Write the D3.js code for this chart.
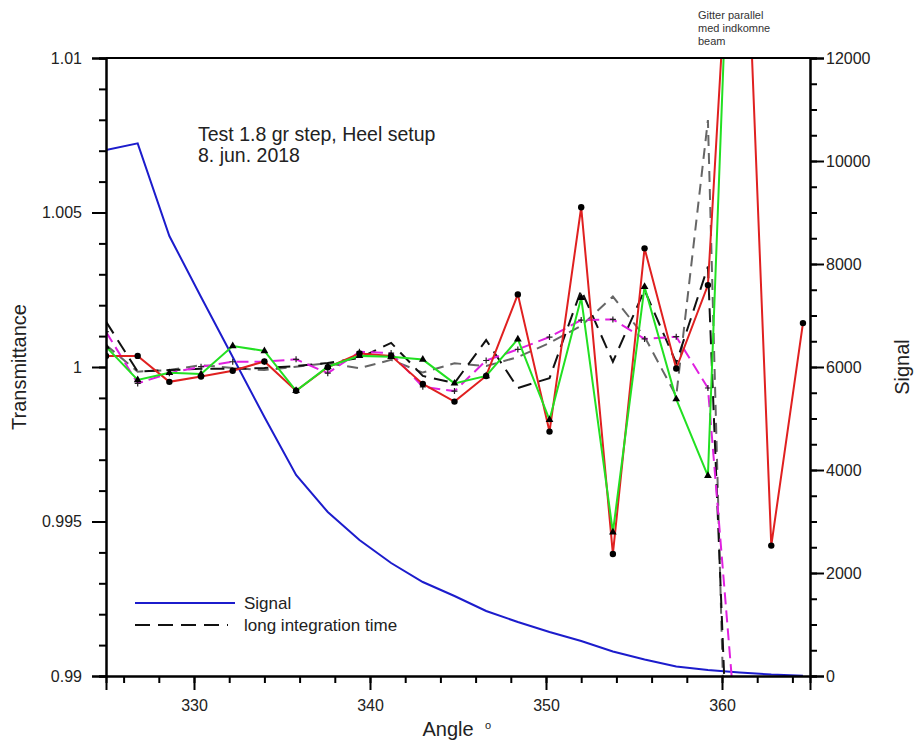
<!DOCTYPE html>
<html>
<head>
<meta charset="utf-8">
<script src="https://cdn.jsdelivr.net/npm/d3@7"></script>
<style>
  body { margin: 0; background: #fff; }
  text { font-family: "Liberation Sans", Arial, sans-serif; fill: #222; }
</style>
</head>
<body>
<div id="chart"></div>
<script>
// angle steps of 1.8 degree
const angles = [325, 326.8, 328.6, 330.4, 332.2, 334, 335.8, 337.6, 339.4, 341.2, 343, 344.8,
  346.6, 348.4, 350.2, 352, 353.8, 355.6, 357.4, 359.2, 361, 362.8, 364.6];

// transmittance series (left axis)
const redVals = [1.00036, 1.00036, 0.99952, 0.99969, 0.99988, 1.00018, 0.99923, 0.99999, 1.00044,
  1.00036, 0.99945, 0.99888, 0.99971, 1.00235, 0.99791, 1.00517, 0.99395, 1.00384, 0.99995,
  1.00265, 1.0202, 0.99422, 1.00142];
const greenVals = [1.00066, 0.99958, 0.99981, 0.99977, 1.00068, 1.00052, 0.99923, 1.00001, 1.00036,
  1.00033, 1.00024, 0.99947, 0.99971, 1.0009, 0.99829, 1.00224, 0.99465, 1.0026, 0.99896,
  0.99648, 1.0238];
const longVals = [1.00147, 0.99985, 0.9999, 0.99994, 0.99994, 0.99997, 1.00003, 1.00013, 1.00029,
  1.00078, 0.99971, 0.99948, 1.00087, 0.99932, 0.99964, 1.00249, 1.00017, 1.00249, 1.00013,
  1.00325, 0.9774];
const greyVals = [1.00071, 0.99985, 0.9999, 1.00006, 0.99997, 0.9999, 1.00001, 1.00012, 0.99996,
  1.00023, 0.99982, 1.00012, 1.00003, 1.00032, 1.00078, 1.00133, 1.00228, 1.00098, 0.99906,
  1.00799, 0.9697];
const magentaVals = [1.00114, 0.99947, 0.9998, 1.00001, 1.00017, 1.00017, 1.00025, 0.9998, 1.00049,
  1.00045, 0.99936, 0.99922, 1.00021, 1.00057, 1.00097, 1.00152, 1.00154, 1.00091, 1.00098,
  0.99932, 0.98686];

// signal (right axis)
const signalVals = [10214, 10343, 8544, 7359, 6194, 5029, 3903, 3184, 2641, 2194, 1825, 1553,
  1262, 1048, 854, 680, 476, 320, 184, 117, 68, 29, 6];

const xMajor = [330, 340, 350, 360];
const leftTicks = [0.99, 0.995, 1, 1.005, 1.01];
const rightTicks = [0, 2000, 4000, 6000, 8000, 10000, 12000];

(function () {
  const width = 916, height = 744;
  const margin = { top: 58, right: 106, bottom: 68, left: 106 };
  const x0 = margin.left, x1 = width - margin.right, y0 = margin.top, y1 = height - margin.bottom;

  const svg = d3.select("#chart").append("svg")
    .attr("width", width)
    .attr("height", height);

  const x = d3.scaleLinear().domain([325, 365]).range([x0, x1]);
  const y = d3.scaleLinear().domain([0.99, 1.01]).range([y1, y0]);
  const y2 = d3.scaleLinear().domain([0, 12000]).range([y1, y0]);

  svg.append("clipPath").attr("id", "plotclip")
    .append("rect").attr("x", x0).attr("y", y0).attr("width", x1 - x0).attr("height", y1 - y0);

  const plot = svg.append("g").attr("clip-path", "url(#plotclip)");

  const pts = vals => vals.map((v, i) => [angles[i], v]);
  const line = d3.line().x(d => x(d[0])).y(d => y(d[1]));
  const line2 = d3.line().x(d => x(d[0])).y(d => y2(d[1]));

  plot.append("path").datum(pts(signalVals))
    .attr("d", line2).attr("fill", "none").attr("stroke", "#1c1ccc").attr("stroke-width", 2);

  plot.append("path").datum(pts(greyVals))
    .attr("d", line).attr("fill", "none").attr("stroke", "#666").attr("stroke-width", 2)
    .attr("stroke-dasharray", "11,7");

  plot.append("path").datum(pts(longVals))
    .attr("d", line).attr("fill", "none").attr("stroke", "#111").attr("stroke-width", 2)
    .attr("stroke-dasharray", "14,8");

  plot.append("path").datum(pts(magentaVals))
    .attr("d", line).attr("fill", "none").attr("stroke", "#e020e0").attr("stroke-width", 2)
    .attr("stroke-dasharray", "12,6");

  plot.selectAll(".plus")
    .data(pts(magentaVals))
    .enter()
    .append("path")
    .attr("class", "plus")
    .attr("d", d => `M${x(d[0]) - 3},${y(d[1])}h6M${x(d[0])},${y(d[1]) - 3}v6`)
    .attr("stroke", "#222").attr("stroke-width", 1.2);

  plot.append("path").datum(pts(redVals))
    .attr("d", line).attr("fill", "none").attr("stroke", "#e02020").attr("stroke-width", 2);

  plot.append("path").datum(pts(greenVals))
    .attr("d", line).attr("fill", "none").attr("stroke", "#22e022").attr("stroke-width", 2);

  plot.selectAll(".dot")
    .data(pts(redVals))
    .enter()
    .append("circle")
    .attr("class", "dot")
    .attr("cx", d => x(d[0]))
    .attr("cy", d => y(d[1]))
    .attr("r", 3.2)
    .attr("fill", "#000");

  plot.selectAll(".tri")
    .data(pts(greenVals))
    .enter()
    .append("path")
    .attr("class", "tri")
    .attr("transform", d => `translate(${x(d[0])},${y(d[1])})`)
    .attr("d", d3.symbol().type(d3.symbolTriangle).size(26))
    .attr("fill", "#000");

  // frame
  svg.append("line").attr("x1", x0).attr("x2", x1).attr("y1", y0).attr("y2", y0)
    .attr("stroke", "#000").attr("stroke-width", 2);

  // axes
  const xAxis = svg.append("g").attr("transform", `translate(0,${y1})`);
  xAxis.call(d3.axisBottom(x).tickValues(d3.range(326, 365, 2)).tickSize(7).tickFormat(""));
  xAxis.append("g").call(d3.axisBottom(x).tickValues(xMajor).tickSize(14).tickFormat(d3.format("d")));

  const yAxis = svg.append("g").attr("transform", `translate(${x0},0)`);
  yAxis.call(d3.axisLeft(y).tickValues(d3.range(0, 21).map(i => 0.99 + i * 0.001)).tickSize(7).tickFormat(""));
  yAxis.append("g").call(d3.axisLeft(y).tickValues(leftTicks).tickSize(14)
    .tickFormat(d => String(+d.toFixed(3))));

  const yAxis2 = svg.append("g").attr("transform", `translate(${x1},0)`);
  yAxis2.call(d3.axisRight(y2).tickValues(d3.range(0, 12001, 500)).tickSize(7).tickFormat(""));
  yAxis2.append("g").call(d3.axisRight(y2).tickValues(rightTicks).tickSize(14).tickFormat(d3.format("d")));

  svg.selectAll(".domain").attr("stroke-width", 2).attr("stroke", "#000");
  svg.selectAll(".tick line").attr("stroke-width", 2).attr("stroke", "#000");
  svg.selectAll(".tick text")
    .style("font-size", "16px")
    .style("font-family", "'Liberation Sans', Arial, sans-serif")
    .attr("fill", "#222");
  xAxis.selectAll(".tick text").attr("y", 24);
  yAxis.selectAll(".tick text").attr("x", -24);
  yAxis2.selectAll(".tick text").attr("x", 16);

  // axis titles
  svg.append("text")
    .attr("transform", `translate(26,${(y0 + y1) / 2}) rotate(-90)`)
    .attr("text-anchor", "middle")
    .style("font-size", "20px")
    .text("Transmittance");

  svg.append("text")
    .attr("transform", `translate(909,${(y0 + y1) / 2}) rotate(-90)`)
    .attr("text-anchor", "middle")
    .style("font-size", "20px")
    .text("Signal");

  svg.append("text")
    .attr("x", 448).attr("y", 736)
    .attr("text-anchor", "middle")
    .style("font-size", "20px")
    .text("Angle");
  svg.append("text")
    .attr("x", 485).attr("y", 729)
    .style("font-size", "11px")
    .text("o");

  // notes
  svg.append("text").attr("x", 198).attr("y", 141).style("font-size", "19.5px")
    .text("Test 1.8 gr step, Heel setup");
  svg.append("text").attr("x", 198).attr("y", 162).style("font-size", "19.5px")
    .text("8. jun. 2018");

  ["Gitter parallel", "med indkomne", "beam"].forEach((t, i) => {
    svg.append("text").attr("x", 698).attr("y", 19 + i * 13)
      .style("font-size", "11px").style("fill", "#333")
      .text(t);
  });

  // legend
  const legend = svg.append("g");
  legend.append("line").attr("x1", 135).attr("x2", 235).attr("y1", 603).attr("y2", 603)
    .attr("stroke", "#1c1ccc").attr("stroke-width", 2);
  legend.append("text").attr("x", 244).attr("y", 609).style("font-size", "17px").text("Signal");
  legend.append("line").attr("x1", 135).attr("x2", 228).attr("y1", 625).attr("y2", 625)
    .attr("stroke", "#111").attr("stroke-width", 2).attr("stroke-dasharray", "15,8");
  legend.append("text").attr("x", 244).attr("y", 631).style("font-size", "17px").text("long integration time");
})();
</script>
</body>
</html>
